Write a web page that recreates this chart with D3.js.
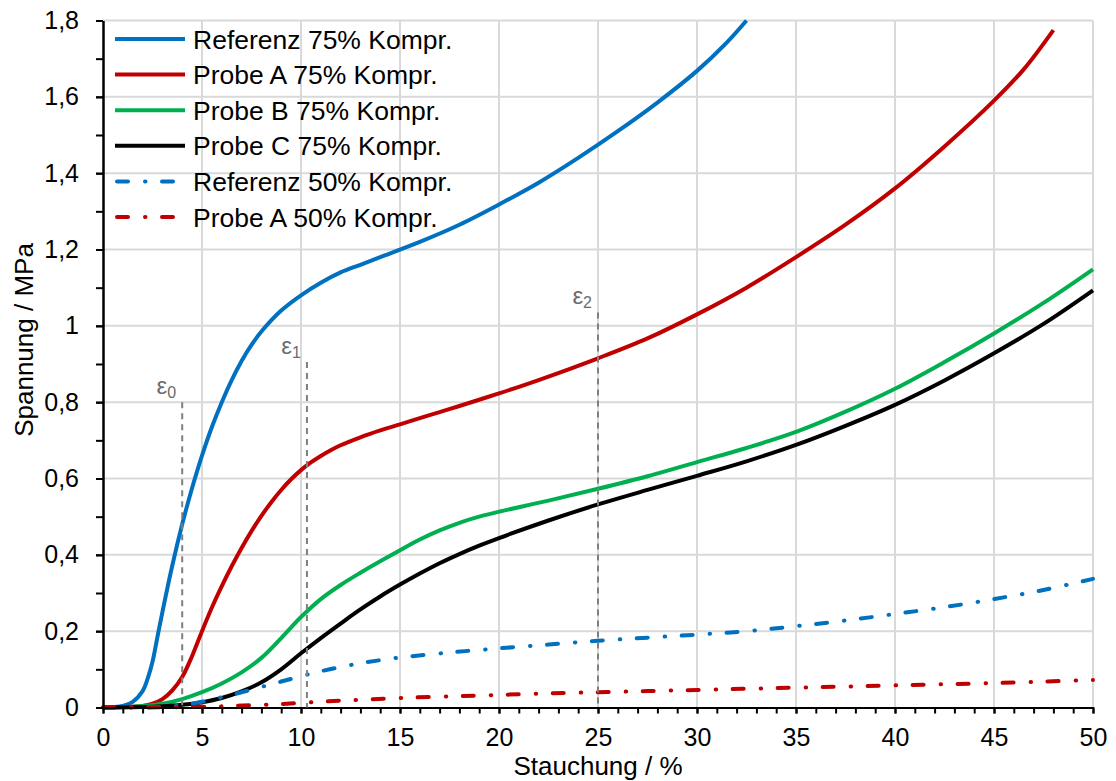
<!DOCTYPE html>
<html>
<head>
<meta charset="utf-8">
<script src="https://cdn.jsdelivr.net/npm/d3@7"></script>
<style>
  html, body { margin: 0; padding: 0; background: #fff; }
  svg { display: block; font-family: Arial, "Liberation Sans", sans-serif; }
</style>
</head>
<body>
<svg id="chart" width="1116" height="781"></svg>
<script>
// Stress–strain curves (Spannung über Stauchung), values as [strain %, stress MPa]
const referenz75 = [[0,0],[0.5,0.001],[1,0.004],[1.5,0.015],[2,0.043],[2.25,0.075],[2.5,0.12],[2.75,0.185],[3,0.25],[3.5,0.372],[4,0.48],[4.5,0.575],[5,0.66],[5.5,0.735],[6,0.8],[6.5,0.858],[7,0.908],[7.5,0.95],[8,0.985],[9,1.04],[10,1.08],[11,1.113],[12,1.14],[13,1.16],[14,1.18],[16,1.22],[18,1.265],[20,1.318],[22,1.375],[24,1.44],[26,1.51],[28,1.585],[30,1.668],[31.5,1.742],[32.5,1.8]];
const probeA75 = [[0,0],[1,0.001],[2,0.004],[2.5,0.01],[3,0.022],[3.5,0.045],[4,0.08],[4.5,0.135],[5,0.2],[5.5,0.262],[6,0.318],[6.5,0.37],[7,0.418],[7.5,0.462],[8,0.502],[8.5,0.538],[9,0.57],[9.5,0.598],[10,0.622],[10.5,0.642],[11,0.659],[11.5,0.674],[12,0.687],[13,0.708],[14,0.726],[15,0.742],[16,0.758],[17,0.774],[18,0.79],[20,0.823],[22,0.858],[25,0.915],[27.5,0.967],[30,1.03],[32.5,1.1],[35,1.18],[37.5,1.265],[40,1.36],[42.5,1.47],[45,1.59],[46.5,1.672],[48,1.775]];
const probeB75 = [[0,0],[1,0.001],[2,0.004],[3,0.01],[4,0.022],[5,0.04],[6,0.063],[7,0.092],[8,0.13],[9,0.182],[10,0.237],[11,0.284],[12,0.321],[13,0.353],[14,0.383],[15,0.412],[16,0.44],[17,0.464],[18,0.484],[19,0.5],[20,0.513],[22.5,0.542],[25,0.573],[27.5,0.606],[30,0.643],[32.5,0.68],[35,0.722],[37.5,0.775],[40,0.835],[42.5,0.905],[45,0.98],[47.5,1.06],[50,1.148]];
const probeC75 = [[0,0],[2,0.001],[3,0.003],[4,0.007],[5,0.014],[6,0.025],[7,0.042],[8,0.066],[9,0.1],[10,0.142],[11,0.182],[12,0.22],[13,0.257],[14,0.291],[15,0.322],[16,0.351],[17,0.378],[18,0.402],[19,0.424],[20,0.444],[22.5,0.49],[25,0.532],[27.5,0.57],[30,0.607],[32.5,0.645],[35,0.688],[37.5,0.738],[40,0.793],[42.5,0.857],[45,0.928],[47.5,1.005],[50,1.093]];
const referenz50 = [[0,0],[2,0.001],[3,0.002],[4,0.006],[5,0.015],[6,0.027],[7,0.04],[8,0.054],[9,0.068],[10,0.082],[11,0.095],[12,0.106],[13,0.116],[14,0.124],[15,0.131],[17.5,0.144],[20,0.155],[22.5,0.165],[25,0.175],[27.5,0.183],[30,0.191],[32.5,0.2],[35,0.213],[37.5,0.228],[40,0.245],[42.5,0.263],[45,0.284],[47.5,0.308],[50,0.337]];
const probeA50 = [[0,0],[3,0.0005],[5,0.002],[6,0.003],[7,0.005],[8,0.007],[9,0.009],[10,0.012],[11,0.015],[12,0.018],[13,0.02],[15,0.025],[17.5,0.029],[20,0.033],[22.5,0.037],[25,0.04],[27.5,0.043],[30,0.046],[32.5,0.049],[35,0.052],[37.5,0.055],[40,0.058],[42.5,0.061],[45,0.064],[47.5,0.068],[50,0.072]];

const seriesNames = ["Referenz 75% Kompr.","Probe A 75% Kompr.","Probe B 75% Kompr.","Probe C 75% Kompr.","Referenz 50% Kompr.","Probe A 50% Kompr."];
const seriesData = [referenz75, probeA75, probeB75, probeC75, referenz50, probeA50];
const seriesColors = ["#0070C0","#C00000","#00B050","#000000","#0070C0","#C00000"];
const seriesDashed = [false,false,false,false,true,true];

// Axis ticks
const xTicks = [0,5,10,15,20,25,30,35,40,45,50];
const xTickLabels = ["0","5","10","15","20","25","30","35","40","45","50"];
const yTicks = [0,0.2,0.4,0.6,0.8,1,1.2,1.4,1.6,1.8];
const yTickLabels = ["0","0,2","0,4","0,6","0,8","1","1,2","1,4","1,6","1,8"];
const xMinor = d3.range(0, 51, 1);
const yMinor = d3.range(0, 19).map(i => i / 10);

// Characteristic strains ε0, ε1, ε2
const epsLabels = ["0","1","2"];
const epsX = [4, 10.3, 25];
const epsTop = [0.8, 0.905, 1.035];

const svg = d3.select("#chart");
const plotLeft = 103, plotRight = 1093, plotTop = 20.5, plotBottom = 707.5;
const x = d3.scaleLinear().domain([0, 50]).range([plotLeft, plotRight]);
const y = d3.scaleLinear().domain([0, 1.8]).range([plotBottom, plotTop]);

// Gridlines
const grid = svg.append("g").attr("stroke", "#d9d9d9").attr("stroke-width", 2);
grid.selectAll("line.v").data(xTicks.slice(1)).join("line")
  .attr("x1", d => x(d)).attr("x2", d => x(d)).attr("y1", plotTop).attr("y2", plotBottom);
grid.selectAll("line.h").data(yTicks.slice(1)).join("line")
  .attr("x1", plotLeft).attr("x2", plotRight).attr("y1", d => y(d)).attr("y2", d => y(d));

// Curves
const line = d3.line().x(d => x(d[0])).y(d => y(d[1])).curve(d3.curveCatmullRom.alpha(0.5));
const dashPattern = "11 17 0.5 16.5";
seriesData.forEach((data, i) => {
  svg.append("path")
    .datum(data)
    .attr("d", line)
    .attr("fill", "none")
    .attr("stroke", seriesColors[i])
    .attr("stroke-width", 4)
    .attr("stroke-linecap", seriesDashed[i] ? "round" : "butt")
    .attr("stroke-linejoin", "round")
    .attr("stroke-dasharray", seriesDashed[i] ? dashPattern : null);
});

// Axes
const fmtX = d => xTickLabels[xTicks.indexOf(d)];
const fmtY = d => yTickLabels[yTicks.findIndex(v => Math.abs(v - d) < 1e-9)];

const gx = svg.append("g").attr("transform", `translate(0,${plotBottom})`);
gx.call(d3.axisBottom(x).tickValues(xMinor).tickFormat("").tickSize(6).tickSizeOuter(0));
const gxl = svg.append("g").attr("transform", `translate(0,${plotBottom})`);
gxl.call(d3.axisBottom(x).tickValues(xTicks).tickFormat(fmtX).tickSize(6).tickPadding(15).tickSizeOuter(0));

const gy = svg.append("g").attr("transform", `translate(${plotLeft},0)`);
gy.call(d3.axisLeft(y).tickValues(yMinor).tickFormat("").tickSize(7).tickSizeOuter(0));
const gyl = svg.append("g").attr("transform", `translate(${plotLeft},0)`);
gyl.call(d3.axisLeft(y).tickValues(yTicks).tickFormat(fmtY).tickSize(7).tickPadding(17).tickSizeOuter(0));

[gx, gxl, gy, gyl].forEach(g => {
  g.selectAll("path.domain").attr("stroke", "#000").attr("stroke-width", 2);
  g.selectAll(".tick line").attr("stroke", "#000").attr("stroke-width", 2);
  g.selectAll("text").attr("fill", "#000").attr("font-size", 25)
    .attr("font-family", 'Arial, "Liberation Sans", sans-serif');
});

// Axis titles
svg.append("text")
  .attr("x", 598).attr("y", 775)
  .attr("text-anchor", "middle").attr("font-size", 26).attr("fill", "#000")
  .text("Stauchung / %");
svg.append("text")
  .attr("transform", `translate(33,340) rotate(-90)`)
  .attr("text-anchor", "middle").attr("font-size", 26).attr("fill", "#000")
  .text("Spannung / MPa");

// Strain markers
const eps = svg.append("g");
epsX.forEach((ex, i) => {
  eps.append("line")
    .attr("x1", x(ex)).attr("x2", x(ex))
    .attr("y1", y(epsTop[i])).attr("y2", y(0))
    .attr("stroke", "#7f7f7f").attr("stroke-width", 2)
    .attr("stroke-dasharray", "6 5");
  const t = eps.append("text")
    .attr("x", x(ex) - 6).attr("y", y(epsTop[i]) - 8)
    .attr("text-anchor", "end").attr("fill", "#6b6b6b").attr("font-size", 24);
  t.append("tspan").text("ε");
  t.append("tspan").attr("font-size", 16).attr("dy", 4).text(epsLabels[i]);
});

// Legend
const legend = svg.append("g");
const legY0 = 39, legStep = 35.6;
seriesNames.forEach((name, i) => {
  const ly = legY0 + i * legStep;
  legend.append("line")
    .attr("x1", 115).attr("x2", seriesDashed[i] ? 177 : 185)
    .attr("y1", ly).attr("y2", ly)
    .attr("stroke", seriesColors[i]).attr("stroke-width", 4)
    .attr("stroke-linecap", seriesDashed[i] ? "round" : "butt")
    .attr("stroke-dasharray", seriesDashed[i] ? dashPattern : null)
    .attr("transform", seriesDashed[i] ? "translate(2,0)" : null);
  legend.append("text")
    .attr("x", 193).attr("y", ly).attr("dy", "0.36em")
    .attr("font-size", 26.5).attr("fill", "#000")
    .text(name);
});
</script>
</body>
</html>
